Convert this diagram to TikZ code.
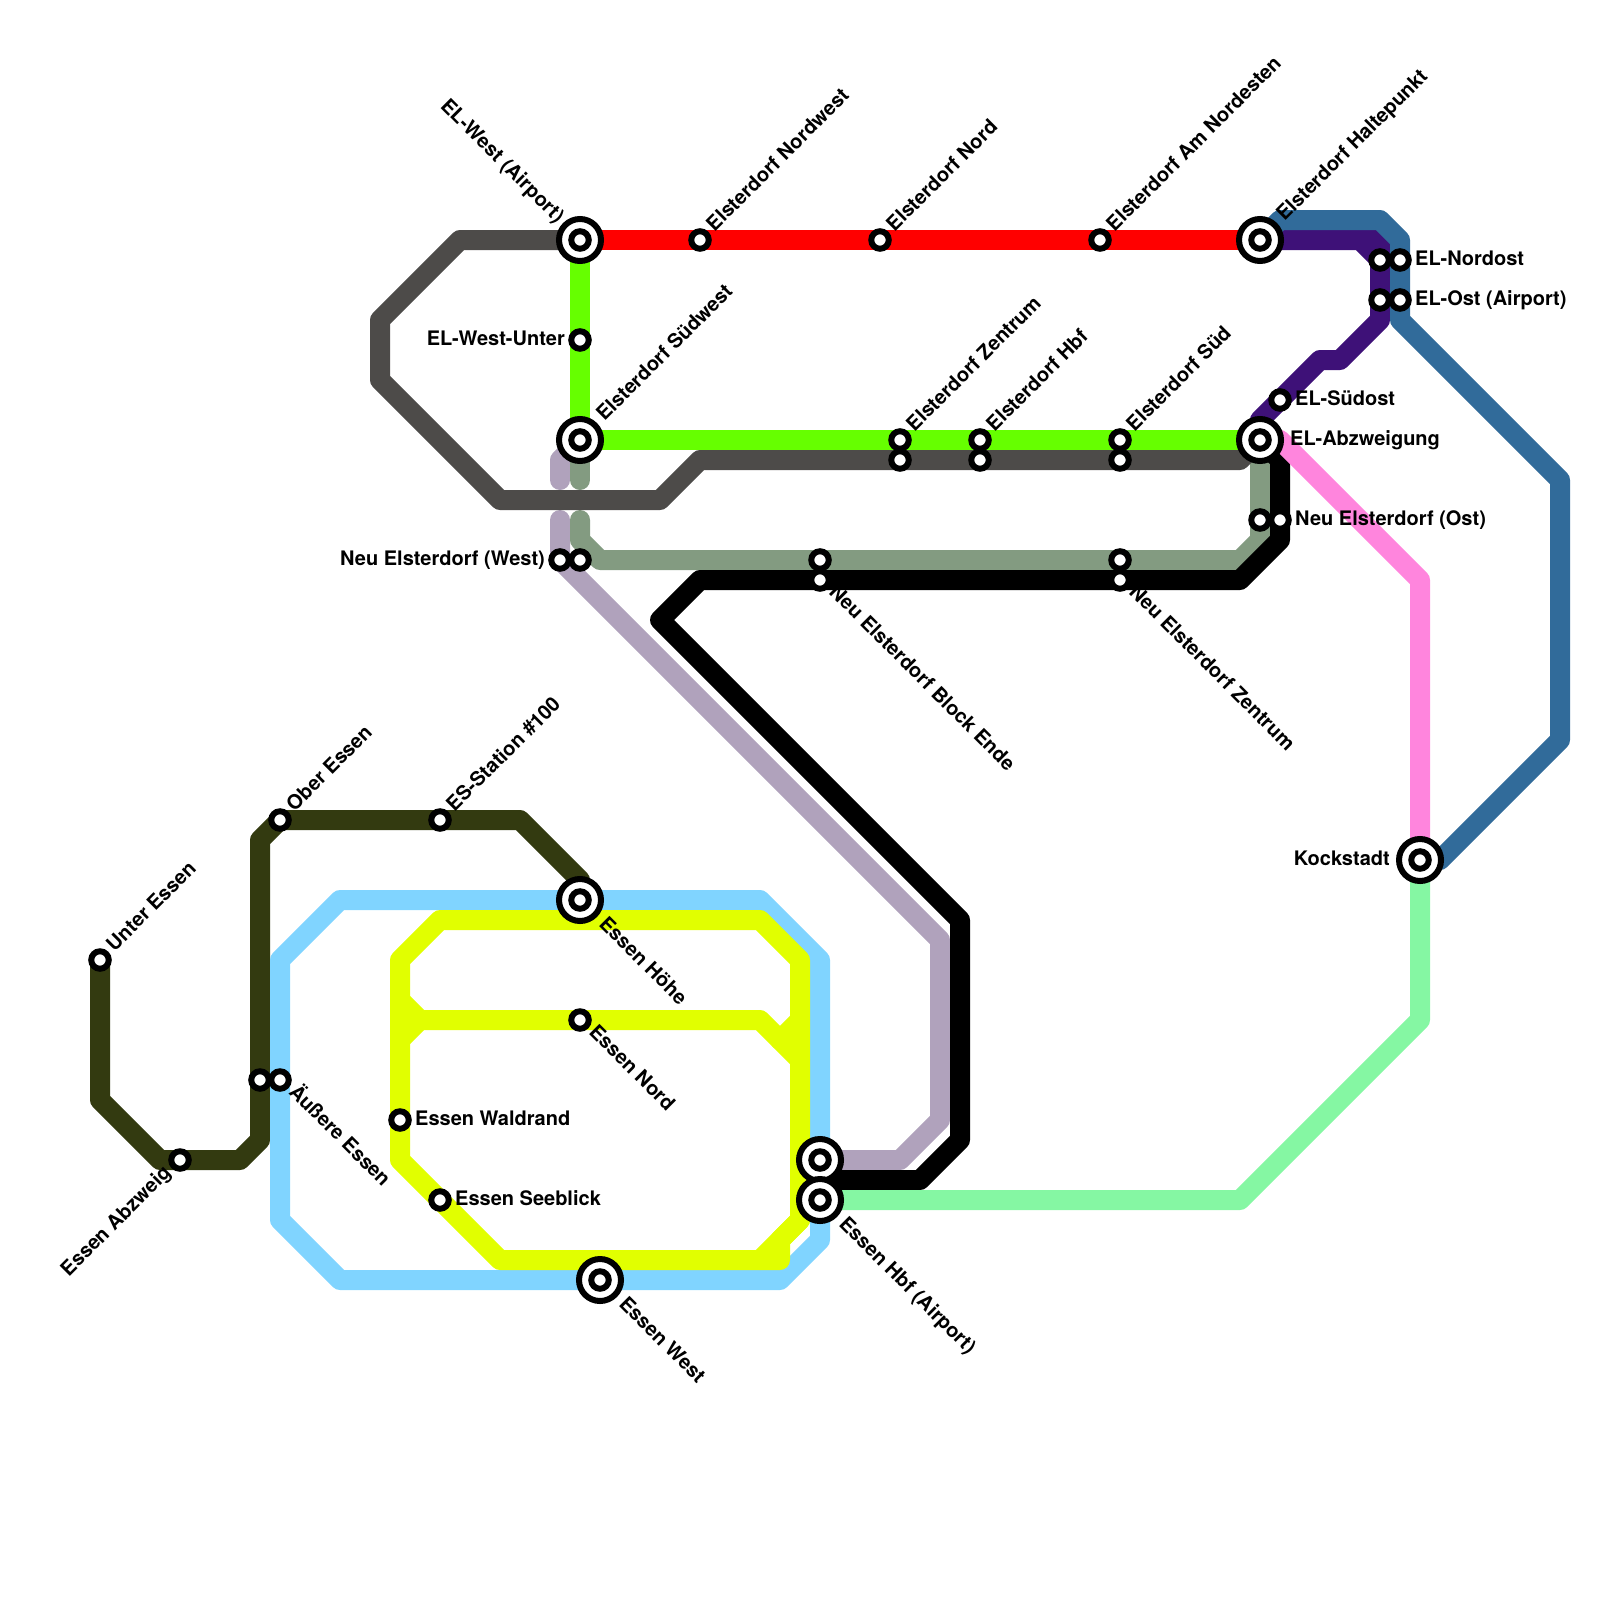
\documentclass[tikz,border=0pt]{standalone}
\usepackage{fontspec}
\setmainfont{TeX Gyre Heros}
\definecolor{cGray}{HTML}{4D4B49}
\definecolor{cRed}{HTML}{FF0000}
\definecolor{cGreen}{HTML}{66FF00}
\definecolor{cLav}{HTML}{B0A2BC}
\definecolor{cSage}{HTML}{839B81}
\definecolor{cOlive}{HTML}{333A10}
\definecolor{cSky}{HTML}{80D4FF}
\definecolor{cYel}{HTML}{E1FF00}
\definecolor{cNavy}{HTML}{316B9A}
\definecolor{cPurp}{HTML}{3E1178}
\definecolor{cPink}{HTML}{FF85DD}
\definecolor{cMint}{HTML}{85F7A3}
\tikzset{
  rail/.style={draw=#1,line width=20pt,line cap=round,line join=round},
  stn/.style={circle,draw=black,fill=white,line width=6pt,inner sep=0pt,minimum size=17.5pt},
  hubo/.style={circle,draw=black,fill=white,line width=6pt,inner sep=0pt,minimum size=42pt},
  hubi/.style={circle,draw=black,fill=white,line width=6pt,inner sep=0pt,minimum size=17.5pt},
  lbl/.style={inner sep=0pt,font=\fontsize{20}{24}\selectfont\bfseries,text=black},
  lr/.style={lbl,anchor=base west},
  ll/.style={lbl,anchor=base east},
  up/.style={lbl,rotate=45,anchor=base west},
  upl/.style={lbl,rotate=45,anchor=base east},
  dn/.style={lbl,rotate=-45,anchor=base west},
  dnl/.style={lbl,rotate=-45,anchor=base east},
}
\begin{document}
\begin{tikzpicture}[x=1pt,y=-1pt]
\useasboundingbox (0,0) rectangle (1600,1600);
% station positions
\coordinate (cWA) at (580,240);
\coordinate (cSW) at (580,440);
\coordinate (cHP) at (1260,240);
\coordinate (cAB) at (1260,440);
\coordinate (cHO) at (580,900);
\coordinate (cWE) at (600,1280);
\coordinate (cHN) at (820,1160);
\coordinate (cHB) at (820,1200);
\coordinate (cKO) at (1420,860);
\coordinate (cNW) at (700,240);
\coordinate (cEN) at (880,240);
\coordinate (cAN) at (1100,240);
\coordinate (cWU) at (580,340);
\coordinate (cZa) at (900,440);
\coordinate (cZb) at (900,460);
\coordinate (cEHa) at (980,440);
\coordinate (cEHb) at (980,460);
\coordinate (cSa) at (1120,440);
\coordinate (cSb) at (1120,460);
\coordinate (cNOa) at (1380,260);
\coordinate (cNOb) at (1400,260);
\coordinate (cOSa) at (1380,300);
\coordinate (cOSb) at (1400,300);
\coordinate (cSO) at (1280,400);
\coordinate (cNOsa) at (1260,520);
\coordinate (cNOsb) at (1280,520);
\coordinate (cBEa) at (820,560);
\coordinate (cBEb) at (820,580);
\coordinate (cNZa) at (1120,560);
\coordinate (cNZb) at (1120,580);
\coordinate (cNWa) at (560,560);
\coordinate (cNWb) at (580,560);
\coordinate (cUE) at (100,960);
\coordinate (cEA) at (180,1160);
\coordinate (cAEa) at (260,1080);
\coordinate (cAEb) at (280,1080);
\coordinate (cOE) at (280,820);
\coordinate (cES) at (440,820);
\coordinate (cEO) at (580,1020);
\coordinate (cWR) at (400,1120);
\coordinate (cSB) at (440,1200);
% lines
\path[rail=cOlive] (cUE) -- (100,1100) -- (160,1160) -- (240,1160) -- (260,1140) -- (260,840) -- (cOE) -- (520,820) -- (580,880) -- (cHO);
\path[rail=cSky] (cHO) -- (760,900) -- (820,960) -- (820,1240) -- (780,1280) -- (cWE) -- (340,1280) -- (280,1220) -- (280,960) -- (340,900) -- (cHO);
\path[rail=cYel] (440,920) -- (760,920) -- (800,960) -- (800,1220) -- (760,1260) -- (500,1260) -- (cSB) -- (400,1160) -- (400,960) -- cycle;
\path[rail=cYel] (400,1000) -- (420,1020) -- (400,1040);
\path[rail=cYel] (420,1020) -- (cEO) -- (760,1020) -- (800,1060);
\path[rail=cYel] (780,1040) -- (800,1020);
\path[rail=cYel] (760,1260) -- (780,1260) -- (780,1240) -- (800,1220);
\path[rail=cLav] (cSW) -- (560,460) -- (560,480);
\path[rail=cLav] (560,520) -- (cNWa) -- (940,940) -- (940,1120) -- (900,1160) -- (cHN);
\path[rail=cSage] (cSW) -- (580,480);
\path[rail=cSage] (580,520) -- (580,540) -- (600,560) -- (1240,560) -- (1260,540) -- (cAB);
\path[rail=cGray] (cWA) -- (460,240) -- (380,320) -- (380,380) -- (500,500) -- (660,500) -- (700,460) -- (1240,460) -- (cAB);
\path[rail=black] (cAB) -- (1280,460) -- (1280,540) -- (1240,580) -- (700,580) -- (660,620) -- (960,920) -- (960,1140) -- (920,1180) -- (820,1180);
\path[rail=cPink] (cAB) -- (1280,440) -- (1420,580) -- (cKO);
\path[rail=cMint] (cKO) -- (1420,1020) -- (1240,1200) -- (cHB);
\path[rail=cRed] (cWA) -- (cHP);
\path[rail=cGreen] (cWA) -- (cSW) -- (cAB);
\path[draw=cPurp,line width=20pt,line join=miter,line cap=butt] (1350,240) -- (1380,240) -- (1380,270);
\path[rail=cPurp] (cHP) -- (1360,240) -- (1380,260) -- (1380,320) -- (1340,360) -- (1320,360) -- (1260,420) -- (cAB);
\path[rail=cNavy] (cHP) -- (1280,220) -- (1380,220) -- (1400,240) -- (1400,320) -- (1560,480) -- (1560,740) -- (1440,860) -- (cKO);
% stations
\node[hubo] (WA) at (cWA) {}; \node[hubi] (WAi) at (WA) {};
\node[hubo] (SW) at (cSW) {}; \node[hubi] (SWi) at (SW) {};
\node[hubo] (HP) at (cHP) {}; \node[hubi] (HPi) at (HP) {};
\node[hubo] (AB) at (cAB) {}; \node[hubi] (ABi) at (AB) {};
\node[hubo] (HO) at (cHO) {}; \node[hubi] (HOi) at (HO) {};
\node[hubo] (WE) at (cWE) {}; \node[hubi] (WEi) at (WE) {};
\node[hubo] (HN) at (cHN) {}; \node[hubi] (HNi) at (HN) {};
\node[hubo] (HB) at (cHB) {}; \node[hubi] (HBi) at (HB) {};
\node[hubo] (KO) at (cKO) {}; \node[hubi] (KOi) at (KO) {};
\foreach \s in {NW,EN,AN,WU,Za,Zb,EHa,EHb,Sa,Sb,NOa,NOb,OSa,OSb,SO,NOsa,NOsb,BEa,BEb,NZa,NZb,NWa,NWb,UE,EA,AEa,AEb,OE,ES,EO,WR,SB}
  \node[stn] (\s) at (c\s) {};
% labels
\node[dnl] (tWA) at ([shift={(-23.5,-16)}]cWA) {EL-West (Airport)};
\node[up] (tNW) at ([shift={(14.5,-7.5)}]cNW) {Elsterdorf Nordwest};
\node[up] (tEN) at ([shift={(14.5,-7.5)}]cEN) {Elsterdorf Nord};
\node[up] (tAN) at ([shift={(14.5,-7.5)}]cAN) {Elsterdorf Am Nordesten};
\node[up] (tHP) at ([shift={(24.5,-18)}]cHP) {Elsterdorf Haltepunkt};
\node[lr] (tNO) at ([shift={(15,5)}]cNOb) {EL-Nordost};
\node[lr] (tOS) at ([shift={(15,5)}]cOSb) {EL-Ost (Airport)};
\node[ll] (tWU) at ([shift={(-15,5)}]cWU) {EL-West-Unter};
\node[up] (tSW) at ([shift={(24.5,-18)}]cSW) {Elsterdorf Südwest};
\node[up] (tZa) at ([shift={(14.5,-7.5)}]cZa) {Elsterdorf Zentrum};
\node[up] (tEH) at ([shift={(14.5,-7.5)}]cEHa) {Elsterdorf Hbf};
\node[up] (tS) at ([shift={(14.5,-7.5)}]cSa) {Elsterdorf Süd};
\node[lr] (tSO) at ([shift={(15,5)}]cSO) {EL-Südost};
\node[lr] (tAB) at ([shift={(30,5)}]cAB) {EL-Abzweigung};
\node[lr] (tNOs) at ([shift={(15,5)}]cNOsb) {Neu Elsterdorf (Ost)};
\node[ll] (tNWa) at ([shift={(-15,5)}]cNWa) {Neu Elsterdorf (West)};
\node[dn] (tBE) at ([shift={(8,13)}]cBEb) {Neu Elsterdorf Block Ende};
\node[dn] (tNZ) at ([shift={(8,13)}]cNZb) {Neu Elsterdorf Zentrum};
\node[up] (tOE) at ([shift={(14.5,-7.5)}]cOE) {Ober Essen};
\node[up] (tES) at ([shift={(14.5,-7.5)}]cES) {ES-Station \#100};
\node[up] (tUE) at ([shift={(14.5,-7.5)}]cUE) {Unter Essen};
\node[upl] (tEA) at ([shift={(-8,14)}]cEA) {Essen Abzweig};
\node[dn] (tAE) at ([shift={(8,13)}]cAEb) {Äußere Essen};
\node[dn] (tHO) at ([shift={(18,25)}]cHO) {Essen Höhe};
\node[dn] (tEO) at ([shift={(8,13)}]cEO) {Essen Nord};
\node[lr] (tWR) at ([shift={(15,5)}]cWR) {Essen Waldrand};
\node[lr] (tSB) at ([shift={(15,5)}]cSB) {Essen Seeblick};
\node[dn] (tWE) at ([shift={(18,25)}]cWE) {Essen West};
\node[dn] (tHB) at ([shift={(18,25)}]cHB) {Essen Hbf (Airport)};
\node[ll] (tKO) at ([shift={(-30,5)}]cKO) {Kockstadt};
\end{tikzpicture}
\end{document}
